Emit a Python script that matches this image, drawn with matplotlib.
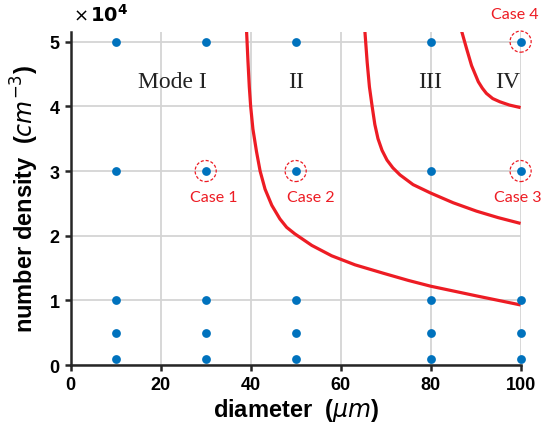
import matplotlib.pyplot as plt
from matplotlib.ticker import FuncFormatter

# sample grid (diameter in um, number density in cm^-3)
diam = [10, 30, 50, 80, 100]
dens = [1000, 5000, 10000, 30000, 50000]

# mode boundaries
b1_x = [39.1, 39.4, 39.7, 40.0, 40.5, 41.3, 42.1, 43.2, 44.7, 46.5, 48.0, 49.8,
        53.6, 58.0, 63.2, 69.5, 75.0, 80.0, 90.2, 100.0]
b1_y = [51500, 47000, 43000, 40000, 36500, 33000, 30000, 27200, 24700, 22600,
        21300, 20300, 18500, 16900, 15500, 14200, 13100, 12200, 10700, 9300]
b2_x = [65.4, 65.9, 66.4, 67.0, 67.6, 68.3, 69.2, 70.3, 71.6, 73.2, 76.1, 80.0,
        85.0, 90.2, 95.0, 100.0]
b2_y = [51500, 46800, 43000, 40000, 37200, 35000, 33200, 31700, 30500, 29400,
        27900, 26600, 25100, 23800, 22800, 21900]
b3_x = [86.9, 88.0, 89.1, 90.6, 91.5, 92.4, 93.8, 95.4, 97.5, 100.0]
b3_y = [51600, 48900, 46300, 43800, 42800, 42000, 41200, 40700, 40200, 39800]

modes = ["Mode I", "II", "III", "IV"]
mode_x = [22.6, 50.1, 79.8, 97.2]

cases = ["Case 1", "Case 2", "Case 3", "Case 4"]
case_x = [30, 50, 100, 100]
case_y = [30000, 30000, 30000, 50000]
label_x = [31.8, 53.4, 99.4, 98.8]
label_y = [26000, 26000, 26000, 54300]

blue = "#0072BD"
red = "#ED1C24"

fig = plt.figure(figsize=(5.48, 4.39), dpi=100)
ax = fig.add_axes([0.129, 0.166, 0.821, 0.759])

ax.grid(True, color="#d4d4d4", linewidth=1.3)
ax.set_axisbelow(True)

for bx, by in [(b1_x, b1_y), (b2_x, b2_y), (b3_x, b3_y)]:
    ax.plot(bx, by, color=red, linewidth=2.3, solid_capstyle="butt",
            solid_joinstyle="round", zorder=3)

gx = [d for d in diam for n in dens]
gy = [n for d in diam for n in dens]
ax.scatter(gx, gy, s=40, color=blue, zorder=4, clip_on=False, linewidths=0)

# dashed circles around the chosen cases
ax.scatter(case_x, case_y, s=230, facecolors="none", edgecolors=red,
           linestyle=(0, (2.5, 1.5)), linewidths=0.9, zorder=5, clip_on=False)

for m, mx in zip(modes, mode_x):
    ax.text(mx, 43900, m, ha="center", va="center", fontsize=17,
            family="Liberation Serif", color="#222222")

for c, lx, ly in zip(cases, label_x, label_y):
    ax.text(lx, ly, c, ha="center", va="center", fontsize=11.5,
            color=red, family="Lato")

ax.set_xlim(0, 100)
ax.set_ylim(0, 51500)
ax.set_xticks([0, 20, 40, 60, 80, 100])
ax.set_yticks([0, 10000, 20000, 30000, 40000, 50000])
ax.yaxis.set_major_formatter(FuncFormatter(lambda v, p: f"{v / 1e4:g}"))

for s in ["top", "right"]:
    ax.spines[s].set_visible(False)
for s in ["left", "bottom"]:
    ax.spines[s].set_linewidth(1.8)
    ax.spines[s].set_color("#262626")

ax.tick_params(direction="out", length=4, width=1.8, color="#262626", pad=4)
for lbl in ax.get_xticklabels() + ax.get_yticklabels():
    lbl.set_fontsize(13)
    lbl.set_fontweight("bold")
    lbl.set_family("Liberation Sans")

ax.set_xlabel(r"diameter  ($\mu m$)", fontsize=17, fontweight="bold",
              family="Liberation Sans", labelpad=2)
ax.set_ylabel(r"number density  ($cm^{-3}$)", fontsize=17, fontweight="bold",
              family="Liberation Sans", labelpad=6)

ax.text(0.005, 1.025, r"$\times$", transform=ax.transAxes, fontsize=13,
        va="bottom", ha="left")
ax.text(0.042, 1.02, r"$\mathbf{10^{4}}$", transform=ax.transAxes, fontsize=14,
        va="bottom", ha="left")

plt.savefig("out.png", dpi=100)
